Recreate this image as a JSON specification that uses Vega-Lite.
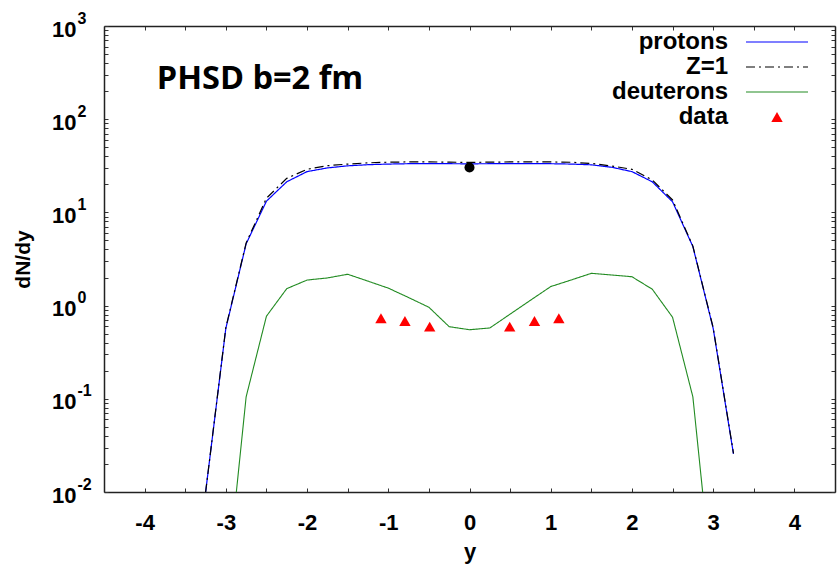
{
  "$schema": "https://vega.github.io/schema/vega-lite/v6.json",
  "width": 731,
  "height": 466,
  "autosize": {"type": "none"},
  "padding": {"left": 104, "top": 26, "right": 2, "bottom": 74},
  "background": "white",
  "config": {
    "view": {"stroke": null},
    "font": "Liberation Sans",
    "axis": {
      "grid": false,
      "domainColor": "#222222",
      "domainWidth": 1.5,
      "tickColor": "#333333",
      "tickWidth": 1,
      "labelFont": "Liberation Sans",
      "labelFontWeight": "bold",
      "labelColor": "black",
      "titleFont": "Liberation Sans",
      "titleFontWeight": "bold",
      "titleColor": "black",
      "labelOverlap": false,
      "labelFlush": false,
      "labelBound": false
    },
    "legend": {
      "title": null,
      "padding": 0,
      "labelFont": "Liberation Sans",
      "labelFontWeight": "bold",
      "labelFontSize": 24,
      "labelColor": "black",
      "labelAlign": "right",
      "labelBaseline": "middle",
      "labelLimit": 400,
      "rowPadding": 1
    }
  },
  "datasets": {
    "curves": [
      {"rapidity": -3.25, "dNdy": 0.0098, "series": "protons"},
      {"rapidity": -3.0, "dNdy": 0.57, "series": "protons"},
      {"rapidity": -2.75, "dNdy": 4.6, "series": "protons"},
      {"rapidity": -2.5, "dNdy": 13.2, "series": "protons"},
      {"rapidity": -2.25, "dNdy": 21.3, "series": "protons"},
      {"rapidity": -2.0, "dNdy": 27.4, "series": "protons"},
      {"rapidity": -1.75, "dNdy": 30.0, "series": "protons"},
      {"rapidity": -1.5, "dNdy": 31.6, "series": "protons"},
      {"rapidity": -1.25, "dNdy": 32.5, "series": "protons"},
      {"rapidity": -1.0, "dNdy": 33.0, "series": "protons"},
      {"rapidity": -0.75, "dNdy": 33.3, "series": "protons"},
      {"rapidity": -0.5, "dNdy": 33.4, "series": "protons"},
      {"rapidity": -0.25, "dNdy": 33.3, "series": "protons"},
      {"rapidity": 0.0, "dNdy": 33.2, "series": "protons"},
      {"rapidity": 0.25, "dNdy": 33.3, "series": "protons"},
      {"rapidity": 0.5, "dNdy": 33.4, "series": "protons"},
      {"rapidity": 0.75, "dNdy": 33.4, "series": "protons"},
      {"rapidity": 1.0, "dNdy": 33.3, "series": "protons"},
      {"rapidity": 1.25, "dNdy": 33.0, "series": "protons"},
      {"rapidity": 1.5, "dNdy": 32.4, "series": "protons"},
      {"rapidity": 1.75, "dNdy": 30.5, "series": "protons"},
      {"rapidity": 2.0, "dNdy": 27.4, "series": "protons"},
      {"rapidity": 2.25, "dNdy": 21.3, "series": "protons"},
      {"rapidity": 2.5, "dNdy": 13.0, "series": "protons"},
      {"rapidity": 2.75, "dNdy": 4.3, "series": "protons"},
      {"rapidity": 3.0, "dNdy": 0.57, "series": "protons"},
      {"rapidity": 3.25, "dNdy": 0.0256, "series": "protons"},
      {"rapidity": -3.25, "dNdy": 0.0098, "series": "Z=1"},
      {"rapidity": -3.0, "dNdy": 0.58, "series": "Z=1"},
      {"rapidity": -2.75, "dNdy": 4.7, "series": "Z=1"},
      {"rapidity": -2.5, "dNdy": 14.2, "series": "Z=1"},
      {"rapidity": -2.25, "dNdy": 23.2, "series": "Z=1"},
      {"rapidity": -2.0, "dNdy": 29.0, "series": "Z=1"},
      {"rapidity": -1.75, "dNdy": 31.7, "series": "Z=1"},
      {"rapidity": -1.5, "dNdy": 33.0, "series": "Z=1"},
      {"rapidity": -1.25, "dNdy": 34.0, "series": "Z=1"},
      {"rapidity": -1.0, "dNdy": 34.6, "series": "Z=1"},
      {"rapidity": -0.75, "dNdy": 34.8, "series": "Z=1"},
      {"rapidity": -0.5, "dNdy": 34.8, "series": "Z=1"},
      {"rapidity": -0.25, "dNdy": 34.6, "series": "Z=1"},
      {"rapidity": 0.0, "dNdy": 34.4, "series": "Z=1"},
      {"rapidity": 0.25, "dNdy": 34.6, "series": "Z=1"},
      {"rapidity": 0.5, "dNdy": 34.8, "series": "Z=1"},
      {"rapidity": 0.75, "dNdy": 34.9, "series": "Z=1"},
      {"rapidity": 1.0, "dNdy": 34.8, "series": "Z=1"},
      {"rapidity": 1.25, "dNdy": 34.5, "series": "Z=1"},
      {"rapidity": 1.5, "dNdy": 33.5, "series": "Z=1"},
      {"rapidity": 1.75, "dNdy": 31.5, "series": "Z=1"},
      {"rapidity": 2.0, "dNdy": 29.0, "series": "Z=1"},
      {"rapidity": 2.25, "dNdy": 22.3, "series": "Z=1"},
      {"rapidity": 2.5, "dNdy": 13.6, "series": "Z=1"},
      {"rapidity": 2.75, "dNdy": 4.35, "series": "Z=1"},
      {"rapidity": 3.0, "dNdy": 0.58, "series": "Z=1"},
      {"rapidity": 3.25, "dNdy": 0.026, "series": "Z=1"},
      {"rapidity": -3.0, "dNdy": 0.0008, "series": "deuterons"},
      {"rapidity": -2.75, "dNdy": 0.105, "series": "deuterons"},
      {"rapidity": -2.5, "dNdy": 0.77, "series": "deuterons"},
      {"rapidity": -2.25, "dNdy": 1.52, "series": "deuterons"},
      {"rapidity": -2.0, "dNdy": 1.88, "series": "deuterons"},
      {"rapidity": -1.75, "dNdy": 1.98, "series": "deuterons"},
      {"rapidity": -1.5, "dNdy": 2.17, "series": "deuterons"},
      {"rapidity": -1.25, "dNdy": 1.83, "series": "deuterons"},
      {"rapidity": -1.0, "dNdy": 1.54, "series": "deuterons"},
      {"rapidity": -0.75, "dNdy": 1.22, "series": "deuterons"},
      {"rapidity": -0.5, "dNdy": 0.96, "series": "deuterons"},
      {"rapidity": -0.25, "dNdy": 0.594, "series": "deuterons"},
      {"rapidity": 0.0, "dNdy": 0.551, "series": "deuterons"},
      {"rapidity": 0.25, "dNdy": 0.575, "series": "deuterons"},
      {"rapidity": 0.5, "dNdy": 0.81, "series": "deuterons"},
      {"rapidity": 0.75, "dNdy": 1.14, "series": "deuterons"},
      {"rapidity": 1.0, "dNdy": 1.6, "series": "deuterons"},
      {"rapidity": 1.25, "dNdy": 1.88, "series": "deuterons"},
      {"rapidity": 1.5, "dNdy": 2.22, "series": "deuterons"},
      {"rapidity": 1.75, "dNdy": 2.13, "series": "deuterons"},
      {"rapidity": 2.0, "dNdy": 2.04, "series": "deuterons"},
      {"rapidity": 2.25, "dNdy": 1.5, "series": "deuterons"},
      {"rapidity": 2.5, "dNdy": 0.75, "series": "deuterons"},
      {"rapidity": 2.75, "dNdy": 0.105, "series": "deuterons"},
      {"rapidity": 3.0, "dNdy": 0.0008, "series": "deuterons"}
    ],
    "measured": [
      {"rapidity": -1.09, "dNdy": 0.731, "series": "data"},
      {"rapidity": -0.795, "dNdy": 0.684, "series": "data"},
      {"rapidity": -0.49, "dNdy": 0.594, "series": "data"},
      {"rapidity": 0.495, "dNdy": 0.594, "series": "data"},
      {"rapidity": 0.8, "dNdy": 0.684, "series": "data"},
      {"rapidity": 1.1, "dNdy": 0.731, "series": "data"}
    ],
    "midpoint": [
      {"rapidity": 0.0, "dNdy": 30.3}
    ],
    "annotation": [
      {"label": "PHSD b=2 fm"}
    ]
  },
  "resolve": {
    "scale": {"x": "shared", "y": "shared", "color": "shared", "strokeDash": "shared"},
    "axis": {"x": "independent", "y": "independent"}
  },
  "layer": [
    {
      "data": {"name": "curves"},
      "transform": [{"filter": "datum.series === 'protons'"}],
      "mark": {"type": "line", "clip": true, "strokeWidth": 1.2},
      "encoding": {
        "x": {
          "field": "rapidity", "type": "quantitative",
          "scale": {"domain": [-4.5, 4.5], "nice": false, "zero": false},
          "axis": {
            "orient": "bottom",
            "values": [-4, -3.5, -3, -2.5, -2, -1.5, -1, -0.5, 0, 0.5, 1, 1.5, 2, 2.5, 3, 3.5, 4],
            "labelExpr": "datum.value % 1 === 0 ? toString(datum.value) : ''",
            "tickSize": -4,
            "labelPadding": 24,
            "labelFontSize": 22,
            "labelBaseline": "top",
            "title": "y",
            "titleFontSize": 22,
            "titlePadding": 8
          }
        },
        "y": {
          "field": "dNdy", "type": "quantitative",
          "scale": {"type": "log", "domain": [0.01, 1000], "nice": false},
          "axis": {
            "orient": "left",
            "values": [0.01, 0.02, 0.03, 0.04, 0.05, 0.06, 0.07, 0.08, 0.09, 0.1, 0.2, 0.3, 0.4, 0.5, 0.6, 0.7, 0.8, 0.9, 1, 2, 3, 4, 5, 6, 7, 8, 9, 10, 20, 30, 40, 50, 60, 70, 80, 90, 100, 200, 300, 400, 500, 600, 700, 800, 900, 1000],
            "labelExpr": "indexof([0.01, 0.1, 1, 10, 100, 1000], datum.value) >= 0 ? '10' : ''",
            "tickSize": -4,
            "labelPadding": 32,
            "labelFontSize": 22,
            "labelAlign": "right",
            "labelBaseline": "middle",
            "labelOffset": 3,
            "title": "dN/dy",
            "titleFontSize": 21,
            "titlePadding": 18
          }
        },
        "color": {
          "field": "series", "type": "nominal",
          "scale": {"domain": ["protons", "Z=1", "deuterons"], "range": ["#0000ff", "#000000", "#228b22"]},
          "legend": {
            "orient": "none",
            "legendX": 661,
            "legendY": 4,
            "labelOffset": -61,
            "symbolType": "M-6.2,0L6.2,0",
            "symbolSize": 100,
            "symbolStrokeWidth": 1.2
          }
        },
        "strokeDash": {
          "field": "series", "type": "nominal",
          "scale": {"domain": ["protons", "Z=1", "deuterons"], "range": [[1, 0], [9, 4, 2, 4], [1, 0]]},
          "legend": {
            "orient": "none",
            "legendX": 661,
            "legendY": 4,
            "labelOffset": -61,
            "symbolType": "M-6.2,0L6.2,0",
            "symbolSize": 100,
            "symbolStrokeWidth": 1.2
          }
        }
      }
    },
    {
      "data": {"name": "curves"},
      "transform": [{"filter": "datum.series === 'Z=1'"}],
      "mark": {"type": "line", "clip": true, "strokeWidth": 1.2},
      "encoding": {
        "x": {
          "field": "rapidity", "type": "quantitative",
          "axis": {
            "orient": "top",
            "values": [-4, -3.5, -3, -2.5, -2, -1.5, -1, -0.5, 0, 0.5, 1, 1.5, 2, 2.5, 3, 3.5, 4],
            "labels": false,
            "tickSize": -4,
            "title": null
          }
        },
        "y": {
          "field": "dNdy", "type": "quantitative",
          "axis": {
            "orient": "left",
            "values": [0.01, 0.1, 1, 10, 100, 1000],
            "labelExpr": "toString(round(log(datum.value) / LN10))",
            "ticks": false,
            "domain": false,
            "labelPadding": 27,
            "labelFontSize": 16,
            "labelAlign": "left",
            "labelBaseline": "middle",
            "labelOffset": -8,
            "title": null
          }
        },
        "color": {"field": "series", "type": "nominal", "legend": null},
        "strokeDash": {"field": "series", "type": "nominal", "legend": null}
      }
    },
    {
      "data": {"name": "curves"},
      "transform": [{"filter": "datum.series === 'deuterons'"}],
      "mark": {"type": "line", "clip": true, "strokeWidth": 1.1},
      "encoding": {
        "x": {"field": "rapidity", "type": "quantitative", "axis": null},
        "y": {
          "field": "dNdy", "type": "quantitative",
          "axis": {
            "orient": "right",
            "values": [0.01, 0.02, 0.03, 0.04, 0.05, 0.06, 0.07, 0.08, 0.09, 0.1, 0.2, 0.3, 0.4, 0.5, 0.6, 0.7, 0.8, 0.9, 1, 2, 3, 4, 5, 6, 7, 8, 9, 10, 20, 30, 40, 50, 60, 70, 80, 90, 100, 200, 300, 400, 500, 600, 700, 800, 900, 1000],
            "labels": false,
            "tickSize": -4,
            "title": null
          }
        },
        "color": {"field": "series", "type": "nominal", "legend": null},
        "strokeDash": {"field": "series", "type": "nominal", "legend": null}
      }
    },
    {
      "data": {"name": "measured"},
      "mark": {"type": "point", "filled": true, "size": 130, "opacity": 1, "color": "#ff0000", "strokeWidth": 0},
      "encoding": {
        "x": {"field": "rapidity", "type": "quantitative", "axis": null},
        "y": {"field": "dNdy", "type": "quantitative", "axis": null},
        "shape": {
          "field": "series", "type": "nominal",
          "scale": {"domain": ["data"], "range": ["triangle-up"]},
          "legend": {
            "orient": "none",
            "legendX": 661,
            "legendY": 79,
            "labelOffset": -61,
            "symbolSize": 130,
            "symbolStrokeWidth": 0,
            "symbolFillColor": "#ff0000",
            "symbolOpacity": 1
          }
        }
      }
    },
    {
      "data": {"name": "midpoint"},
      "mark": {"type": "circle", "size": 100, "color": "black", "opacity": 1},
      "encoding": {
        "x": {"field": "rapidity", "type": "quantitative", "axis": null},
        "y": {"field": "dNdy", "type": "quantitative", "axis": null}
      }
    },
    {
      "data": {"name": "annotation"},
      "mark": {"type": "text", "font": "Open Sans", "fontWeight": "bold", "fontSize": 32.5, "align": "left", "baseline": "alphabetic", "color": "black"},
      "encoding": {
        "x": {"datum": -3.85, "type": "quantitative", "axis": null},
        "y": {"datum": 209, "type": "quantitative", "axis": null},
        "text": {"field": "label", "type": "nominal"}
      }
    }
  ]
}
